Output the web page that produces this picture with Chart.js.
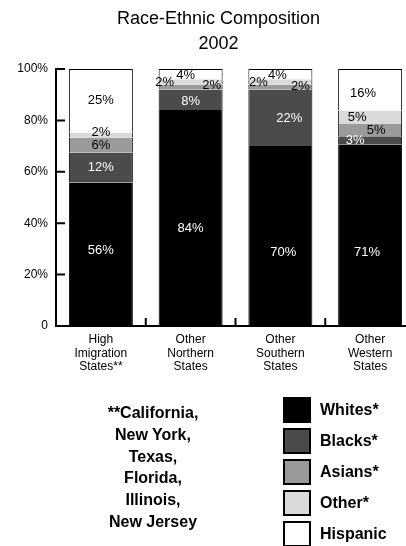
<!DOCTYPE html>
<html>
<head>
<meta charset="utf-8">
<script src="https://cdn.jsdelivr.net/npm/chart.js@4"></script>
<style>
html, body { margin: 0; padding: 0; overflow: hidden; background: #fff; }
.wrap { position: relative; width: 406px; height: 546px; overflow: hidden; }
canvas { position: absolute; left: 0; top: 0; }
.note {
    position: absolute; left: 53px; top: 402px; width: 200px; text-align: center;
    font: bold 16px/21.8px "Liberation Sans", Arial, sans-serif; color: #000;
}
.legend {
    position: absolute; left: 283px; top: 397px; margin: 0; padding: 0; list-style: none;
    font: bold 16px "Liberation Sans", Arial, sans-serif; color: #000;
}
.legend li { display: flex; align-items: center; height: 26px; margin-bottom: 5px; }
.legend .box { width: 24px; height: 22px; border: 2px solid #000; margin-right: 9px; }
</style>
</head>
<body>
<div class="wrap">
    <canvas class="my-chart" width="420" height="546"></canvas>
    <div class="note">**California,<br>New York,<br>Texas,<br>Florida,<br>Illinois,<br>New Jersey</div>
    <ul class="legend"></ul>
</div>
<script>
const categories = [
    ["High", "Imigration", "States**"],
    ["Other", "Northern", "States"],
    ["Other", "Southern", "States"],
    ["Other", "Western", "States"],
];
const groups = ["Whites*", "Blacks*", "Asians*", "Other*", "Hispanic"];
const whites = [55.8, 84, 70, 70.5];
const blacks = [11.6, 8, 22, 3.3];
const asians = [5.9, 2, 2, 4.8];
const other = [1.9, 2, 2, 5.3];
const hispanic = [24.8, 4, 4, 16.1];
const valueLabels = [
    ["56%", "84%", "70%", "71%"],
    ["12%", "8%", "22%", "3%"],
    ["6%", "2%", "2%", "5%"],
    ["2%", "2%", "2%", "5%"],
    ["25%", "4%", "4%", "16%"],
];
const yTicks = [0, 20, 40, 60, 80, 100];

const fillColors = ["#000000", "#4b4b4b", "#9a9a9a", "#dadada", "#ffffff"];
const font = '"Liberation Sans", Arial, sans-serif';

// small shifts for labels that sit in thin slices (bar,dataset)
const nudge = {
    "0,0": [0, -4], "0,3": [0, -3],
    "1,0": [0, 10], "1,1": [0, 2], "1,2": [21, -2], "1,3": [-26, 1], "1,4": [-5, 1],
    "2,0": [3, 16], "2,1": [9, 1], "2,2": [20, -1], "2,3": [-22, 1], "2,4": [-3, 1],
    "3,0": [-3, 17], "3,1": [-15, 0], "3,2": [6, 0], "3,3": [-13, 0], "3,4": [-7, 4],
};

const segmentLabels = {
    id: "segmentLabels",
    afterLayout(chart) {
        // title sits a little right of the canvas centre in the original
        chart.titleBlock.left += 6;
        chart.titleBlock.right += 6;
    },
    afterDatasetsDraw(chart) {
        const ctx = chart.ctx;
        ctx.save();
        ctx.font = "13px " + font;
        ctx.textAlign = "center";
        ctx.textBaseline = "middle";
        chart.data.datasets.forEach((ds, d) => {
            chart.getDatasetMeta(d).data.forEach((bar, i) => {
                const [dx, dy] = nudge[i + "," + d] || [0, 0];
                ctx.fillStyle = d < 2 ? "#fff" : "#000";
                ctx.fillText(valueLabels[d][i], bar.x + dx, (bar.y + bar.base) / 2 + dy);
            });
        });
        ctx.restore();
    }
};

// tick marks point inward on this chart
const innerTicks = {
    id: "innerTicks",
    afterDraw(chart) {
        const { ctx, chartArea, scales } = chart;
        ctx.save();
        ctx.strokeStyle = "#000";
        ctx.lineWidth = 2;
        ctx.beginPath();
        yTicks.forEach(v => {
            const y = scales.y.getPixelForValue(v);
            ctx.moveTo(chartArea.left, y);
            ctx.lineTo(chartArea.left + 9, y);
        });
        for (let i = 1; i < categories.length; i++) {
            const x = (scales.x.getPixelForValue(i - 1) + scales.x.getPixelForValue(i)) / 2;
            ctx.moveTo(x, chartArea.bottom);
            ctx.lineTo(x, chartArea.bottom - 8);
        }
        ctx.stroke();
        ctx.restore();
    }
};

const series = [whites, blacks, asians, other, hispanic];

const myChart = new Chart(document.querySelector(".my-chart"), {
    type: "bar",
    data: {
        labels: categories,
        datasets: series.map((values, d) => ({
            label: groups[d],
            data: values,
            backgroundColor: fillColors[d],
            borderColor: "#000",
            borderSkipped: false,
            borderWidth: { left: 1, right: 1, top: d === 4 ? 1 : 0, bottom: 0 },
            barPercentage: 0.713,
            categoryPercentage: 1,
        })),
    },
    options: {
        responsive: false,
        animation: false,
        layout: { padding: { left: 10, right: 5, top: 0, bottom: 0 } },
        plugins: {
            legend: { display: false },
            tooltip: { enabled: false },
            title: {
                display: true,
                text: ["Race-Ethnic Composition", "2002"],
                color: "#000",
                font: { family: font, size: 18, weight: "normal", lineHeight: 25 / 18 },
                padding: { top: 7, bottom: 12 },
            },
        },
        scales: {
            x: {
                stacked: true,
                grid: { display: false, drawTicks: false },
                border: { display: true, color: "#000", width: 2 },
                ticks: {
                    color: "#000", padding: 7, maxRotation: 0, autoSkip: false,
                    font: { family: font, size: 12, lineHeight: 1.125 },
                },
                afterFit: s => { s.height = 220; },
            },
            y: {
                stacked: true,
                min: 0,
                max: 100,
                grid: { display: false, drawTicks: false },
                border: { display: true, color: "#000", width: 2 },
                ticks: {
                    color: "#000", padding: 8, stepSize: 20,
                    font: { family: font, size: 12 },
                    callback: v => (v === 0 ? "0" : v + "%"),
                },
                afterFit: s => { s.width = 46; },
            },
        },
    },
    plugins: [segmentLabels, innerTicks],
});

const ul = document.querySelector(".legend");
const populateLegend = () => {
    myChart.data.datasets.forEach(ds => {
        let li = document.createElement("li");
        li.innerHTML = `<span class="box" style="background:${ds.backgroundColor}"></span>${ds.label}`;
        ul.appendChild(li);
    });
};

populateLegend();
</script>
</body>
</html>
